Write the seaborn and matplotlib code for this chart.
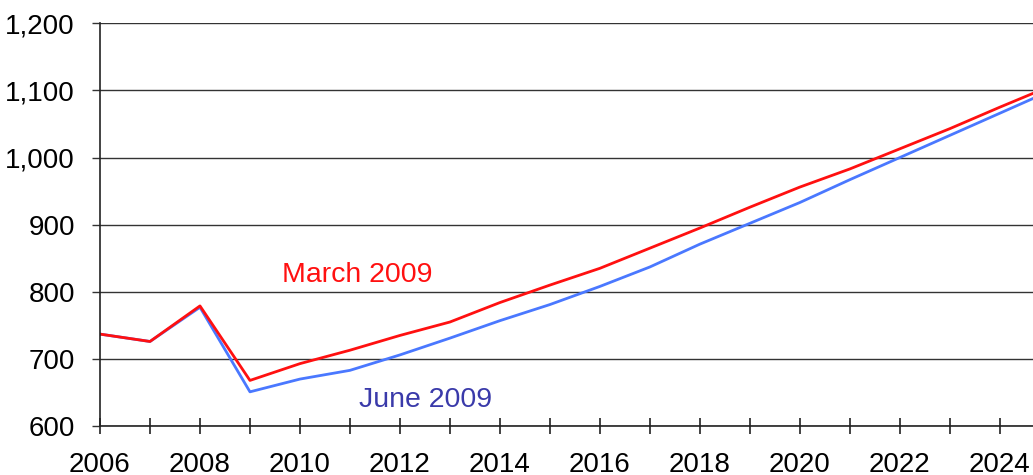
import matplotlib
matplotlib.use('Agg')
import matplotlib.pyplot as plt
import seaborn as sns
import pandas as pd
from matplotlib.ticker import FuncFormatter, MultipleLocator

# Daten
years = list(range(2006, 2026))
march_2009 = [737, 726, 779, 668, 693, 713, 735, 755, 784, 810, 835, 865, 895, 926, 956, 983, 1013, 1043, 1075, 1106]
june_2009 = [737, 726, 777, 651, 670, 683, 706, 731, 757, 781, 808, 837, 871, 902, 933, 967, 1000, 1033, 1066, 1099]

df = pd.DataFrame({
    'Jahr': years * 2,
    'Wert': march_2009 + june_2009,
    'Serie': ['March 2009'] * len(years) + ['June 2009'] * len(years),
})

sns.set_style('white')
plt.rcParams['font.family'] = ['Liberation Sans', 'DejaVu Sans']

fig = plt.figure(figsize=(10.33, 4.75), dpi=100)
ax = fig.add_axes([0.0968, 0.103, 0.903, 0.848])

sns.lineplot(data=df, x='Jahr', y='Wert', hue='Serie',
             palette={'March 2009': '#ff1010', 'June 2009': '#4a78ff'},
             hue_order=['June 2009', 'March 2009'],
             linewidth=2.0, legend=False, ax=ax)

ax.set_xlim(2006, 2024.66)
ax.set_ylim(600, 1200)
ax.yaxis.set_major_locator(MultipleLocator(100))
ax.xaxis.set_major_locator(MultipleLocator(2))
ax.xaxis.set_minor_locator(MultipleLocator(1))
ax.yaxis.set_major_formatter(FuncFormatter(lambda v, p: f"{int(v):,}"))

ax.grid(axis='y', color='#333333', linewidth=1.0)
ax.set_axisbelow(True)
for s in ['top', 'right']:
    ax.spines[s].set_visible(False)
for s in ['left', 'bottom']:
    ax.spines[s].set_color('#222222')
    ax.spines[s].set_linewidth(1.2)

ax.tick_params(axis='y', which='major', direction='out', length=6, width=1.0,
               color='#333333', labelsize=20, labelcolor='black', left=True, pad=12)
ax.tick_params(axis='x', which='both', direction='inout', length=11, width=1.2,
               color='#222222', labelsize=20, labelcolor='black', bottom=True, pad=13)
ax.set_xlabel('')
ax.set_ylabel('')

ax.text(2011.14, 825, 'March 2009', color='#ff1010', fontsize=20.5, ha='center', va='center')
ax.text(2012.52, 639, 'June 2009', color='#3a3aaa', fontsize=20.5, ha='center', va='center')

fig.savefig('out.png', dpi=100)
